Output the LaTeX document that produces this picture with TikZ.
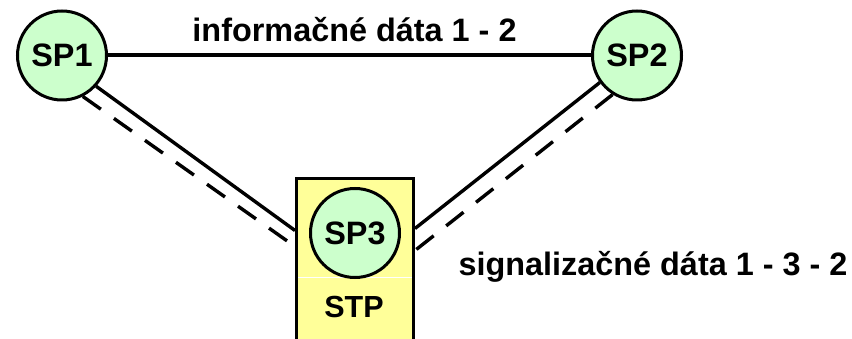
\documentclass[tikz,border=0pt]{standalone}
\usepackage{fontspec}
\setmainfont{Liberation Sans}
\usetikzlibrary{calc}
\definecolor{spgreen}{HTML}{CCFFCC}
\definecolor{stpyellow}{HTML}{FFFF99}
\begin{document}
\begin{tikzpicture}[x=1pt,y=-1pt,
  spnode/.style={circle, draw=black, line width=3pt, fill=spgreen, minimum size=89pt, inner sep=0pt, font=\bfseries\fontsize{32.4}{36}\selectfont},
  lbl/.style={font=\bfseries\fontsize{32.4}{36}\selectfont, inner sep=0pt, anchor=base},
  link/.style={line width=3.4pt},
  hlink/.style={line width=4pt},
  dlink/.style={line width=3.4pt, dash pattern=on 22pt off 16pt},
  stpbox/.style={draw=black, line width=3pt, fill=stpyellow, minimum width=117pt, minimum height=200pt, inner sep=0pt}
]
\useasboundingbox (0,0) rectangle (852,339);
\node[stpbox] (stp) at (355,278.5) {};
\draw[white, line width=0.8pt] (298,277) -- (412,277);
\node[spnode] (sp1) at (62,55.5) {SP1};
\node[spnode] (sp2) at (637,55.5) {SP2};
\node[spnode] (sp3) at (355,233) {SP3};
\node[lbl, font=\bfseries\fontsize{30.5}{34}\selectfont] (stplabel) at (354,317) {STP};
\node[lbl] (infolbl) at (354.5,42) {informačné dáta 1 - 2};
\node[lbl] (siglbl) at (653,276) {signalizačné dáta 1 - 3 - 2};
\coordinate (lsol) at ($(stp.north west)+(0,53.5)$);
\coordinate (ldash) at ($(stp.north west)+(0,69.5)$);
\coordinate (rsol) at ($(stp.north east)+(0,51.5)$);
\coordinate (rdash) at ($(stp.north east)+(0,73.5)$);
\draw[hlink] (sp1) -- (sp2);
\draw[link] (sp1.-42) -- (lsol);
\draw[dlink] (sp1.-63) -- (ldash);
\draw[link] (sp2.-144) -- (rsol);
\draw[dlink] (sp2.-122) -- (rdash);
\end{tikzpicture}
\end{document}
